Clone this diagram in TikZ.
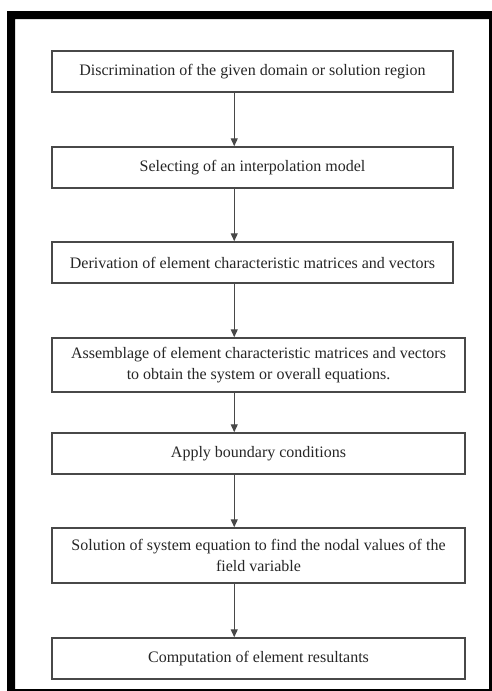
\documentclass[tikz,border=0pt]{standalone}
\usepackage{fontspec}
\setmainfont{Liberation Serif}
\usepackage{tikz}
\usetikzlibrary{arrows.meta,positioning}
\definecolor{edge}{HTML}{484848}
\definecolor{ink}{HTML}{262626}

\begin{document}
\begin{tikzpicture}[x=1pt,y=-1pt,
  stepbox/.style={draw=edge,line width=1.5pt,fill=white,align=center,inner sep=0pt,
    text=ink,font=\fontsize{16}{21}\selectfont},
  flow/.style={draw=edge,line width=1.3pt,-{Triangle[length=8pt,width=7pt]}}]
  \useasboundingbox (0,0) rectangle (492,691);
  % black frame round the page
  \fill[black,even odd rule] (7,11) rectangle (494,694) (15,19) rectangle (489,689);
  \node[stepbox,minimum width=401pt,minimum height=41pt] (discr) at (252.5,71.5)
    {Discrimination of the given domain or solution region};
  \node[stepbox,minimum width=401pt,minimum height=41pt] (interp) at (252.5,167.5)
    {Selecting of an interpolation model};
  \node[stepbox,minimum width=401pt,minimum height=41pt] (deriv) at (252.5,262.5)
    {Derivation of element characteristic matrices and vectors};
  \node[stepbox,minimum width=413pt,minimum height=54pt] (assem) at (258.5,365)
    {Assemblage of element characteristic matrices and vectors\\to obtain the system or overall equations.};
  \node[stepbox,minimum width=413pt,minimum height=41pt] (bound) at (258.5,453.5)
    {Apply boundary conditions};
  \node[stepbox,minimum width=413pt,minimum height=55pt] (solve) at (258.5,555.5)
    {Solution of system equation to find the nodal values of the\\field variable};
  \node[stepbox,minimum width=413pt,minimum height=41pt] (comp) at (258.5,658.5)
    {Computation of element resultants};
  \foreach \a/\b in {discr/interp,interp/deriv,deriv/assem,assem/bound,bound/solve,solve/comp}
    \draw[flow] ([xshift=183pt]\a.south west) -- ([xshift=183pt]\b.north west);
\end{tikzpicture}
\end{document}
